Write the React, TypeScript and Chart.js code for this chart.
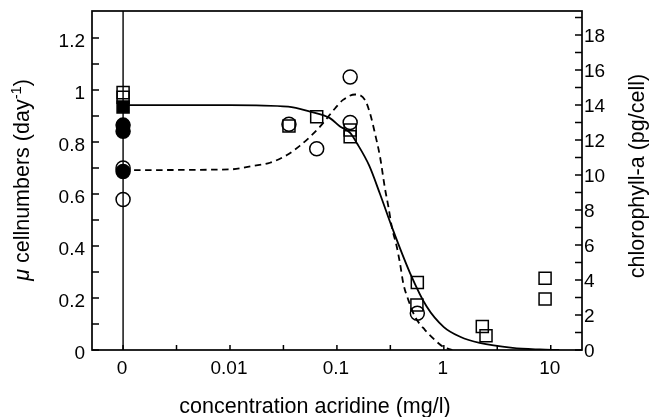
import { useEffect, useRef } from "react";
import { Chart, registerables } from "chart.js";

Chart.register(...registerables);

// ---- axis definitions ----
const ZERO_AT = 0.001; // position on the log axis where the "0" concentration is plotted
const X_MIN = 0.000512;
const X_MAX = 19.6;
const MU_MAX = 1.304;
const CHL_MAX = 19.37;

const xTickValues = [0.001, 0.01, 0.1, 1, 10];
const xTickLabels = ["0", "0.01", "0.1", "1", "10"];
const xMinorTicks = [0.00316, 0.0316, 0.316, 3.16];

const muTickValues = [0, 0.2, 0.4, 0.6, 0.8, 1, 1.2];
const muTickLabels = ["0", "0.2", "0.4", "0.6", "0.8", "1", "1.2"];
const muMinorTicks = [0.1, 0.3, 0.5, 0.7, 0.9, 1.1];

const chlTickValues = [0, 2, 4, 6, 8, 10, 12, 14, 16, 18];
const chlTickLabels = ["0", "2", "4", "6", "8", "10", "12", "14", "16", "18"];
const chlMinorTicks = [1, 3, 5, 7, 9, 11, 13, 15, 17, 19];

// ---- data: μ cellnumbers (squares, left axis) ----
const muConc = [0, 0, 0.0356, 0.0647, 0.133, 0.133, 0.565, 0.56, 2.29, 2.48, 8.85, 8.85];
const muVal = [0.99, 0.972, 0.862, 0.897, 0.846, 0.82, 0.26, 0.173, 0.09, 0.055, 0.276, 0.196];
const muFilledConc = [0];
const muFilledVal = [0.935];

// ---- data: chlorophyll-a (circles, right axis) ----
const chlConc = [0, 0, 0.0356, 0.0647, 0.133, 0.133, 0.565];
const chlVal = [10.4, 8.6, 12.9, 11.5, 15.6, 13.0, 2.1];
const chlFilledConc = [0, 0, 0];
const chlFilledVal = [12.85, 12.5, 10.2];

// ---- fitted curves ----
const muFitConc = [0, 0.01, 0.035, 0.056, 0.086, 0.107, 0.133, 0.154, 0.2, 0.253, 0.326, 0.483, 0.691, 1.0, 1.42, 2.16, 4.4, 7.9, 12];
const muFitVal = [0.942, 0.942, 0.936, 0.917, 0.892, 0.86, 0.835, 0.795, 0.71, 0.6, 0.474, 0.296, 0.167, 0.088, 0.051, 0.027, 0.008, 0.002, 0];

const chlFitConc = [0, 0.01, 0.0164, 0.0237, 0.0341, 0.0452, 0.056, 0.0695, 0.0826, 0.096, 0.114, 0.148, 0.183, 0.204, 0.227, 0.253, 0.282, 0.303, 0.326, 0.363, 0.389, 0.418, 0.466, 0.538, 0.667, 0.828, 0.983, 1.2];
const chlFitVal = [10.28, 10.32, 10.52, 10.7, 11.14, 11.68, 12.18, 12.76, 13.32, 13.8, 14.29, 14.6, 14.29, 13.52, 12.37, 11.04, 9.2, 8.19, 7.04, 5.9, 4.95, 3.8, 2.85, 1.9, 1.14, 0.56, 0.19, 0];

const toPts = (xs: number[], ys: number[]) =>
  xs.map((c, i) => ({ x: c === 0 ? ZERO_AT : c, y: ys[i] }));

const FONT = '"Liberation Sans", Arial, Helvetica, sans-serif';
const TICK_FONT = `19px ${FONT}`;
const TITLE_SIZE = 21.5;

const axesPlugin = {
  id: "customAxes",
  afterDatasetsDraw(chart: any) {
    const { ctx, chartArea: a, scales } = chart;
    const sx = scales.x;
    const sl = scales.yMu;
    const sr = scales.yChl;
    ctx.save();
    ctx.strokeStyle = "#000";
    ctx.fillStyle = "#000";
    ctx.lineCap = "butt";

    // frame
    ctx.lineWidth = 1.7;
    ctx.strokeRect(a.left, a.top, a.right - a.left, a.bottom - a.top);

    // vertical line at the zero concentration
    const zx = sx.getPixelForValue(ZERO_AT);
    ctx.lineWidth = 1.4;
    ctx.beginPath();
    ctx.moveTo(zx, a.top);
    ctx.lineTo(zx, a.bottom);
    ctx.stroke();

    // inward ticks
    ctx.lineWidth = 1.5;
    const XT = 5;
    const YT = 7;
    ctx.beginPath();
    [...xTickValues, ...xMinorTicks].forEach((v) => {
      const p = sx.getPixelForValue(v);
      ctx.moveTo(p, a.bottom);
      ctx.lineTo(p, a.bottom - XT);
    });
    [...muTickValues, ...muMinorTicks].forEach((v) => {
      const p = sl.getPixelForValue(v);
      ctx.moveTo(a.left, p);
      ctx.lineTo(a.left + YT, p);
    });
    [...chlTickValues, ...chlMinorTicks].forEach((v) => {
      const p = sr.getPixelForValue(v);
      ctx.moveTo(a.right, p);
      ctx.lineTo(a.right - YT, p);
    });
    ctx.stroke();

    // tick labels
    ctx.font = TICK_FONT;
    ctx.textBaseline = "alphabetic";
    ctx.textAlign = "center";
    xTickValues.forEach((v, i) => {
      ctx.fillText(xTickLabels[i], sx.getPixelForValue(v) - 1, a.bottom + 24);
    });
    ctx.textAlign = "right";
    muTickValues.forEach((v, i) => {
      ctx.fillText(muTickLabels[i], a.left - 7, sl.getPixelForValue(v) + 8.5);
    });
    ctx.textAlign = "left";
    chlTickValues.forEach((v, i) => {
      ctx.fillText(chlTickLabels[i], a.right + 2, sr.getPixelForValue(v) + 7);
    });

    // x title
    ctx.textAlign = "center";
    ctx.font = `${TITLE_SIZE}px ${FONT}`;
    ctx.fillText("concentration acridine (mg/l)", 315, 413);

    // left title with italic μ and superscript
    const parts = [
      { t: "μ", f: `italic ${TITLE_SIZE}px ${FONT}`, dy: 0 },
      { t: " cellnumbers (day", f: `${TITLE_SIZE}px ${FONT}`, dy: 0 },
      { t: "-1", f: `${TITLE_SIZE * 0.68}px ${FONT}`, dy: -8 },
      { t: ")", f: `${TITLE_SIZE}px ${FONT}`, dy: 0 },
    ];
    let total = 0;
    const widths = parts.map((p) => {
      ctx.font = p.f;
      const w = ctx.measureText(p.t).width;
      total += w;
      return w;
    });
    ctx.save();
    ctx.translate(29, 180);
    ctx.rotate(-Math.PI / 2);
    ctx.textAlign = "left";
    let cx = -total / 2;
    parts.forEach((p, i) => {
      ctx.font = p.f;
      ctx.fillText(p.t, cx, p.dy);
      cx += widths[i];
    });
    ctx.restore();

    // right title
    ctx.save();
    ctx.translate(644, 176);
    ctx.rotate(-Math.PI / 2);
    ctx.textAlign = "center";
    ctx.font = `${TITLE_SIZE}px ${FONT}`;
    ctx.fillText("chlorophyll-a (pg/cell)", 0, 0);
    ctx.restore();

    ctx.restore();
  },
};

export default function App() {
  const ref = useRef<HTMLCanvasElement | null>(null);

  useEffect(() => {
    document.body.style.margin = "0";
    const canvas = ref.current;
    if (!canvas) return;
    const marker = {
      showLine: false,
      borderColor: "#000",
      borderWidth: 1.5,
    };
    const chart = new Chart(canvas, {
      type: "scatter",
      data: {
        datasets: [
          {
            label: "μ fit",
            data: toPts(muFitConc, muFitVal),
            yAxisID: "yMu",
            showLine: true,
            borderColor: "#000",
            borderWidth: 1.8,
            pointRadius: 0,
            cubicInterpolationMode: "monotone",
            order: 5,
          },
          {
            label: "chl fit",
            data: toPts(chlFitConc, chlFitVal),
            yAxisID: "yChl",
            showLine: true,
            borderColor: "#000",
            borderWidth: 1.8,
            borderDash: [6.5, 4.5],
            pointRadius: 0,
            cubicInterpolationMode: "monotone",
            order: 4,
          },
          {
            ...marker,
            label: "chlorophyll-a",
            data: toPts(chlConc, chlVal),
            yAxisID: "yChl",
            pointStyle: "circle",
            pointRadius: 7,
            backgroundColor: "rgba(0,0,0,0)",
            order: 3,
          },
          {
            ...marker,
            label: "chlorophyll-a (filled)",
            data: toPts(chlFilledConc, chlFilledVal),
            yAxisID: "yChl",
            pointStyle: "circle",
            pointRadius: 7,
            backgroundColor: "#000",
            order: 2,
          },
          {
            ...marker,
            label: "μ cellnumbers",
            data: toPts(muConc, muVal),
            yAxisID: "yMu",
            pointStyle: "rect",
            pointRadius: 8.5,
            backgroundColor: "rgba(0,0,0,0)",
            order: 1,
          },
          {
            ...marker,
            label: "μ cellnumbers (filled)",
            data: toPts(muFilledConc, muFilledVal),
            yAxisID: "yMu",
            pointStyle: "rect",
            pointRadius: 8.5,
            backgroundColor: "#000",
            order: 0,
          },
        ],
      },
      options: {
        responsive: false,
        animation: false,
        events: [],
        layout: { padding: { left: 92, right: 68, top: 11, bottom: 67 } },
        plugins: {
          legend: { display: false },
          tooltip: { enabled: false },
          title: { display: false },
        },
        scales: {
          x: { type: "logarithmic", min: X_MIN, max: X_MAX, display: false },
          yMu: { type: "linear", position: "left", min: 0, max: MU_MAX, display: false },
          yChl: { type: "linear", position: "right", min: 0, max: CHL_MAX, display: false },
        },
      },
      plugins: [axesPlugin],
    });
    return () => chart.destroy();
  }, []);

  return (
    <div style={{ position: "fixed", left: 0, top: 0, width: 650, height: 417, background: "#fff" }}>
      <canvas ref={ref} width={650} height={417} />
    </div>
  );
}
